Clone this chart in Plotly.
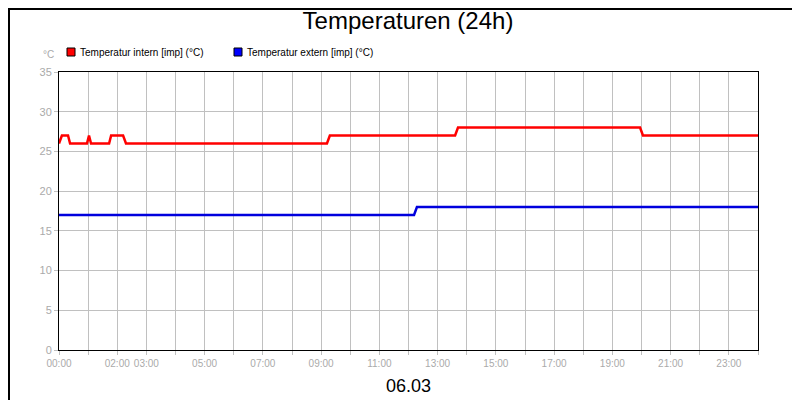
import plotly.graph_objects as go

intern_h = [0, 0.10, 0.31, 0.38, 0.96, 1.03, 1.10, 1.72, 1.79, 2.20, 2.30, 9.20, 9.30, 13.60, 13.70, 19.95, 20.05, 24]
intern_v = [26, 27, 27, 26, 26, 27, 26, 26, 27, 27, 26, 26, 27, 27, 28, 28, 27, 27]
extern_h = [0, 12.19, 12.29, 24]
extern_v = [17, 17, 18, 18]
tick_hours = list(range(0, 25))
labeled = {0: "00:00", 2: "02:00", 3: "03:00", 5: "05:00", 7: "07:00", 9: "09:00", 11: "11:00",
           13: "13:00", 15: "15:00", 17: "17:00", 19: "19:00", 21: "21:00", 23: "23:00"}
tick_text = [labeled.get(h, "") for h in tick_hours]

W, H, L, R, T, B = 800, 400, 51, 50, 64, 58
pw, ph = W - L - R, H - T - B

fig = go.Figure()
fig.add_trace(go.Scatter(x=intern_h, y=intern_v, mode="lines", line=dict(color="#ff0000", width=2.5),
                         name="Temperatur intern [imp] (°C)"))
fig.add_trace(go.Scatter(x=extern_h, y=extern_v, mode="lines", line=dict(color="#0000dd", width=2.5),
                         name="Temperatur extern [imp] (°C)"))

def legend_item(x_px, color, text):
    return [
        dict(type="rect", xref="paper", yref="paper",
             x0=(x_px - L) / pw, x1=(x_px + 8 - L) / pw,
             y0=(H - 48 - B) / ph, y1=(H - 40 - B) / ph,
             fillcolor=color, line=dict(color="black", width=1)),
    ], dict(text=text, xref="paper", yref="paper", x=(x_px + 11 - L) / pw, y=(H - 44 - B) / ph,
            xanchor="left", yanchor="middle", showarrow=False, font=dict(size=10, color="#000"))

s1, a1 = legend_item(59, "#ff0000", "Temperatur intern [imp] (°C)")
s2, a2 = legend_item(226, "#0000ff", "Temperatur extern [imp] (°C)")

fig.update_layout(
    width=W, height=H, autosize=False, paper_bgcolor="white", plot_bgcolor="white",
    margin=dict(l=L, r=R, t=T, b=B, autoexpand=False),
    font=dict(family="Liberation Sans, Arial", color="#000"),
    title=dict(text="Temperaturen (24h)", x=0.5, xanchor="center", y=0.99, yanchor="top",
               font=dict(size=24, color="#000")),
    showlegend=False,
    shapes=s1 + s2 + [dict(type="rect", xref="paper", yref="paper", x0=-(L - 1) / pw, x1=(W - L - 1) / pw,
                 y0=-(B - 1) / ph, y1=(H - B - 1) / ph,
                 line=dict(color="black", width=2), fillcolor="rgba(0,0,0,0)")],
    annotations=[
        a1, a2,
        dict(text="°C", xref="paper", yref="paper", x=-0.005, y=(H - 47 - B) / ph, xanchor="right", yanchor="middle",
             showarrow=False, font=dict(size=10, color="#aaaaaa")),
        dict(text="06.03", xref="paper", yref="paper", x=0.5, y=-(378 - T - ph) / ph, xanchor="center",
             yanchor="middle", showarrow=False, font=dict(size=18, color="#000")),
    ],
)
fig.update_xaxes(range=[0, 24], tickvals=tick_hours, ticktext=tick_text, tickangle=0, showgrid=True,
                 gridcolor="#c0c0c0", ticks="outside", ticklen=4, tickcolor="#c0c0c0",
                 tickfont=dict(size=10, color="#aaaaaa"), automargin=False,
                 showline=True, linecolor="black", mirror=True, zeroline=False)
fig.update_yaxes(range=[0, 35], dtick=5, showgrid=True, gridcolor="#c0c0c0", automargin=False,
                 ticks="outside", ticklen=4, tickcolor="#c0c0c0", tickfont=dict(size=11, color="#aaaaaa"),
                 showline=True, linecolor="black", mirror=True, zeroline=False)
fig.write_html("out.html")
